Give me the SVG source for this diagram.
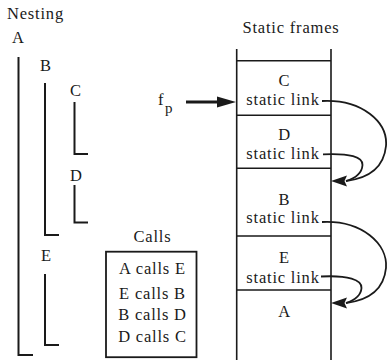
<svg xmlns="http://www.w3.org/2000/svg" width="388" height="360" viewBox="0 0 388 360">
<style>
.t text{font-size:16.5px;letter-spacing:0.8px;fill:#1a1a1a}
.c{text-anchor:middle}
.br{fill:none;stroke:#1a1a1a;stroke-width:2}
.fr{stroke:#1a1a1a;stroke-width:1.6;fill:none}
.lk{fill:none;stroke:#1a1a1a;stroke-width:1.8}
</style>
<defs>
<path id="ah" d="M0 0 L16 -5.5 L13.5 0 L16 5.5 Z" fill="#1a1a1a"/>
</defs>
<rect width="388" height="360" fill="#fff"/>
<g class="t" font-family="Liberation Serif, DejaVu Serif, Times New Roman, serif">
<text x="7" y="18.5">Nesting</text>
<g id="nestA"><text x="12" y="43">A</text><path class="br" d="M18.5 57 V355 H33"/></g>
<g id="nestB"><text x="40" y="71">B</text><path class="br" d="M45 83 V235 H59"/></g>
<g id="nestC"><text x="70" y="96">C</text><path class="br" d="M74.5 102 V154 H88"/></g>
<g id="nestD"><text x="70" y="181">D</text><path class="br" d="M74.5 185 V222.5 H88"/></g>
<g id="nestE"><text x="41" y="261">E</text><path class="br" d="M45 274 V345 H59"/></g>
<g id="calls">
<text class="c" x="152.5" y="242">Calls</text>
<rect x="106" y="251.7" width="90.5" height="105.5" fill="none" stroke="#1a1a1a" stroke-width="1.8"/>
<text class="c" x="152.5" y="274.3">A calls E</text>
<text class="c" x="152.5" y="299.3">E calls B</text>
<text class="c" x="152.5" y="320.3">B calls D</text>
<text class="c" x="152.5" y="341.5">D calls C</text>
</g>
<g id="stack">
<text class="c" x="291" y="33.3">Static frames</text>
<path class="fr" d="M236.7 49 V360 M331 49 V360 M236.7 60.7 H331 M236.7 115.3 H331 M236.7 168.3 H331 M236.7 236 H331 M236.7 290 H331"/>
</g>
<g id="frameC"><text class="c" x="284.5" y="86.3">C</text><text class="c" x="283" y="104.7">static link</text></g>
<g id="frameD"><text class="c" x="284.5" y="140">D</text><text class="c" x="283" y="158.5">static link</text></g>
<g id="frameB"><text class="c" x="284.5" y="205">B</text><text class="c" x="283" y="223.3">static link</text></g>
<g id="frameE"><text class="c" x="284.5" y="263.3">E</text><text class="c" x="283" y="282.7">static link</text></g>
<g id="frameA"><text class="c" x="284.5" y="317">A</text></g>
<g id="fp"><text x="158" y="105">f</text><text x="165" y="113" style="font-size:15px">p</text></g>
</g>
<g id="connectors">
<line x1="186" y1="102" x2="220" y2="102" stroke="#1a1a1a" stroke-width="3"/>
<path d="M236 102 L217 96.5 L217 107.5 Z" fill="#1a1a1a"/>
<path class="lk" d="M322 101 C362 99 388 122 386 146 C384 166 370 178 346 181"/>
<path class="lk" d="M323 154.3 C350 153 363 157 362.5 165 C362 173 356 178 346 181"/>
<use href="#ah" x="331" y="181"/>
<path class="lk" d="M322 222 C362 220 388 244 386 268 C384 288 370 300 346 303"/>
<path class="lk" d="M321 276.5 C348 275 362 280 361.5 288 C361 296 355 300 346 303"/>
<use href="#ah" x="331" y="303"/>
</g>
</svg>
